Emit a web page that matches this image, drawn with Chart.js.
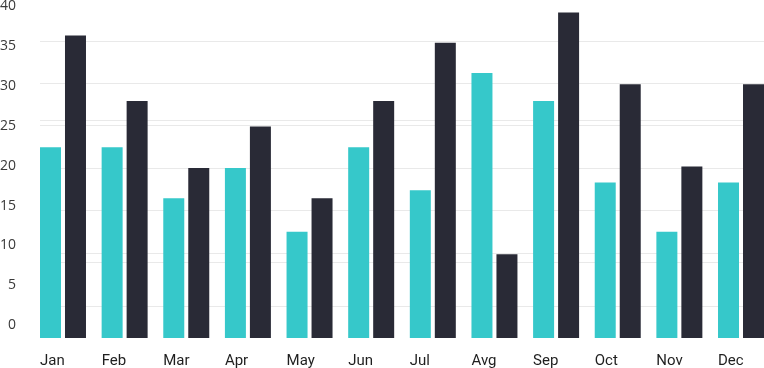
<!DOCTYPE html>
<html>
<head>
<meta charset="utf-8">
<script src="https://cdn.jsdelivr.net/npm/chart.js@4.4.1/dist/chart.umd.min.js"></script>
<style>
  html, body { margin: 0; padding: 0; background: #fff; }
  canvas { display: block; }
</style>
</head>
<body>
<canvas id="chart" width="764" height="368"></canvas>
<script>
var months = ['Jan', 'Feb', 'Mar', 'Apr', 'May', 'Jun', 'Jul', 'Avg', 'Sep', 'Oct', 'Nov', 'Dec'];
var seriesA = [22.3, 22.3, 15.9, 19.7, 11.7, 22.3, 16.9, 31.6, 28.1, 17.9, 11.7, 17.9];
var seriesB = [36.3, 28.1, 19.7, 24.9, 15.9, 28.1, 35.4, 8.9, 39.2, 30.2, 19.9, 30.2];
var yTicks = [0, 5, 10, 15, 20, 25, 30, 35, 40];

var yMin = -1.6;   // bars start a little under the "0" label

function points(values) {
    return values.map(function(v, i) { return { x: i, y: v }; });
}

document.addEventListener("DOMContentLoaded", function() {
    var ctx = document.getElementById('chart').getContext('2d');

    new Chart(ctx, {
        type: 'bar',
        data: {
            datasets: [{
                label: 'Series A',
                data: points(seriesA),
                backgroundColor: '#36c8ca',
                base: yMin,
                categoryPercentage: 0.811,
                barPercentage: 0.84
            }, {
                label: 'Series B',
                data: points(seriesB),
                backgroundColor: '#292a36',
                base: yMin,
                categoryPercentage: 0.811,
                barPercentage: 0.84
            }]
        },
        options: {
            responsive: false,
            animation: false,
            layout: { padding: { top: 6, right: 0, bottom: 0, left: 0 } },
            plugins: { legend: { display: false }, tooltip: { enabled: false } },
            scales: {
                x: {
                    type: 'linear',
                    offset: false,
                    min: -0.373,
                    max: 11.373,
                    grid: { display: false, drawTicks: false },
                    border: { display: false },
                    afterBuildTicks: function(scale) {
                        scale.ticks = months.map(function(m, i) { return { value: i }; });
                    },
                    afterFit: function(scale) {
                        scale.height = 30;
                        scale.paddingLeft = 0;
                        scale.paddingRight = 0;
                    },
                    ticks: {
                        autoSkip: false,
                        maxRotation: 0,
                        align: 'start',
                        labelOffset: -23,
                        padding: 14,
                        color: '#1f1f1f',
                        font: { family: 'Roboto', size: 15 },
                        callback: function(v) { return months[v]; }
                    }
                },
                y: {
                    position: 'left',
                    weight: 1,
                    min: yMin,
                    max: 40,
                    grid: { display: false, drawTicks: false },
                    border: { display: false },
                    afterBuildTicks: function(scale) {
                        scale.ticks = yTicks.map(function(v) { return { value: v }; });
                    },
                    afterFit: function(scale) {
                        scale.width = 40;
                        scale.paddingTop = 0;
                        scale.paddingBottom = 0;
                    },
                    ticks: {
                        padding: 24,
                        color: '#3a3a3a',
                        font: { family: 'Open Sans', size: 14 }
                    }
                },
                // faint gridlines, not on the same spacing as the labels
                g: {
                    type: 'linear',
                    position: 'left',
                    weight: 0,
                    min: 0,
                    max: 7.83,
                    border: { display: false },
                    grid: { color: '#e9e9e9', lineWidth: 1, drawTicks: false },
                    ticks: { display: false },
                    afterBuildTicks: function(scale) {
                        scale.ticks = [0.75, 1.77, 2, 3, 4, 5, 5.14, 6, 7].map(function(v) { return { value: v }; });
                    },
                    afterFit: function(scale) {
                        scale.width = 0;
                        scale.paddingTop = 0;
                        scale.paddingBottom = 0;
                    }
                }
            }
        }
    });
});
</script>
</body>
</html>
